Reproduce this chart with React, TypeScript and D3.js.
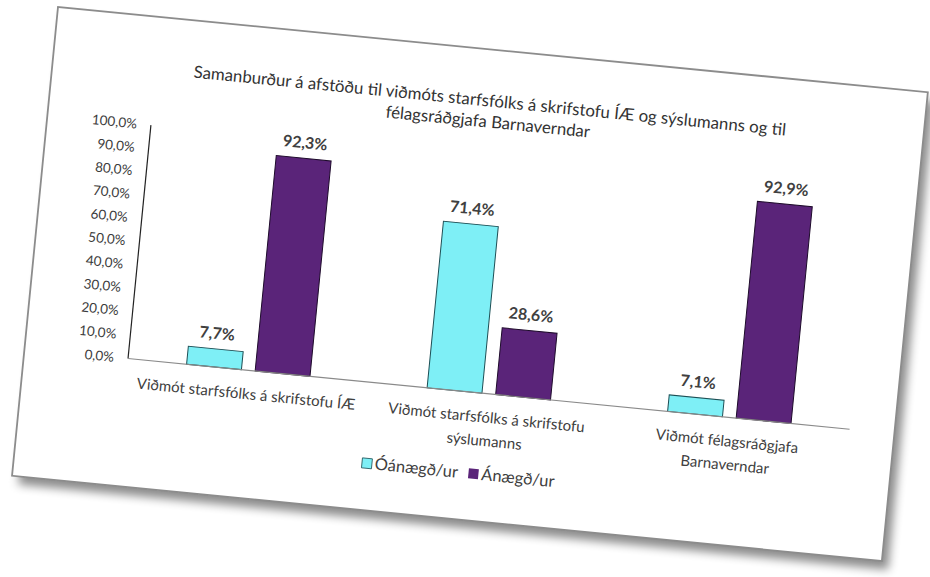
import React from "react";
import * as d3 from "d3";

const categories = [
  "Viðmót starfsfólks á skrifstofu ÍÆ",
  "Viðmót starfsfólks á skrifstofu\nsýslumanns",
  "Viðmót félagsráðgjafa\nBarnaverndar",
];
const seriesNames = ["Óánægð/ur", "Ánægð/ur"];
const seriesColors = ["#7EEFF6", "#5A2479"];
const seriesStroke = ["#1d4f55", "#1e0b2b"];
const unhappy = [0.077, 0.714, 0.071];
const happy = [0.923, 0.286, 0.929];
const yTicks = [0, 0.1, 0.2, 0.3, 0.4, 0.5, 0.6, 0.7, 0.8, 0.9, 1.0];
const titleLines = [
  "Samanburður á afstöðu til viðmóts starfsfólks á skrifstofu ÍÆ og sýslumanns og til",
  "félagsráðgjafa Barnaverndar",
];

const locale = d3.formatLocale({
  decimal: ",",
  thousands: ".",
  grouping: [3],
  currency: ["", " kr"],
});
const pct = locale.format(".1%");

const FONT = "Lato, 'Open Sans', sans-serif";

export default function App() {
  const W = 874;
  const H = 471;
  const plot = { left: 104, right: 829, top: 108.5, bottom: 343 };
  const x0 = d3
    .scaleBand<string>()
    .domain(categories)
    .range([plot.left, plot.right])
    .padding(0);
  const bw = x0.bandwidth();
  const x1 = d3
    .scaleBand<string>()
    .domain(seriesNames)
    .range([bw / 2 - 62, bw / 2 + 62])
    .paddingInner(0.2)
    .paddingOuter(0);
  const y = d3.scaleLinear().domain([0, 1]).range([plot.bottom, plot.top]);
  const values = [unhappy, happy];
  const cx = W / 2 + 2;

  return (
    <svg
      width={930}
      height={577}
      style={{ position: "fixed", left: 0, top: 0, background: "#fff" }}
    >
      <defs>
        <filter id="shadow" x="-10%" y="-10%" width="125%" height="130%">
          <feDropShadow dx="7" dy="8" stdDeviation="5" floodColor="#000" floodOpacity="0.45" />
        </filter>
      </defs>
      <g transform="translate(58,7) rotate(5.6)">
        <rect x={0} y={0} width={W} height={H} fill="#fff" filter="url(#shadow)" />
        <rect x={0} y={0} width={W} height={H} fill="#fff" stroke="#8c8c8c" strokeWidth={1.8} />

        {titleLines.map((t, i) => (
          <text
            key={i}
            x={cx}
            y={57 + i * 21}
            textAnchor="middle"
            fontFamily={FONT}
            fontSize={16.8}
            fill="#333"
          >
            {t}
          </text>
        ))}

        {yTicks.map((t) => (
          <text
            key={t}
            x={plot.left - 14}
            y={y(t)}
            dy="0.35em"
            textAnchor="end"
            fontFamily={FONT}
            fontSize={13.5}
            fill="#3c3c3c"
          >
            {pct(t)}
          </text>
        ))}

        {categories.map((c, ci) =>
          seriesNames.map((s, si) => {
            const v = values[si][ci];
            const bx = (x0(c) as number) + (x1(s) as number);
            return (
              <g key={c + s}>
                <rect
                  x={bx}
                  y={y(v)}
                  width={x1.bandwidth()}
                  height={plot.bottom - y(v)}
                  fill={seriesColors[si]}
                  stroke={seriesStroke[si]}
                  strokeWidth={1}
                />
                <text
                  x={bx + x1.bandwidth() / 2}
                  y={y(v) - 10}
                  textAnchor="middle"
                  fontFamily={FONT}
                  fontWeight="bold"
                  fontSize={16}
                  fill="#404040"
                >
                  {pct(v)}
                </text>
              </g>
            );
          })
        )}

        <line x1={plot.left} x2={plot.left} y1={plot.top} y2={plot.bottom} stroke="#222" strokeWidth={1.2} />
        <line x1={plot.left} x2={plot.right} y1={plot.bottom} y2={plot.bottom} stroke="#8a8a8a" strokeWidth={1.2} />

        {categories.map((c) => {
          const lines = c.split("\n");
          const mx = (x0(c) as number) + bw / 2;
          return (
            <text
              key={c}
              textAnchor="middle"
              fontFamily={FONT}
              fontSize={15}
              fill="#404040"
            >
              {lines.map((l, li) => (
                <tspan key={li} x={mx} y={372 + li * 23.5}>
                  {l}
                </tspan>
              ))}
            </text>
          );
        })}

        <g transform="translate(347,424)">
          <rect x={0} y={-5} width={10} height={10} fill={seriesColors[0]} stroke={seriesStroke[0]} strokeWidth={0.8} />
          <text x={13} y={5.5} fontFamily={FONT} fontSize={16.5} fill="#404040">
            {seriesNames[0]}
          </text>
          <rect x={107} y={-5} width={10} height={10} fill={seriesColors[1]} />
          <text x={120} y={5.5} fontFamily={FONT} fontSize={16.5} fill="#404040">
            {seriesNames[1]}
          </text>
        </g>
      </g>
    </svg>
  );
}
